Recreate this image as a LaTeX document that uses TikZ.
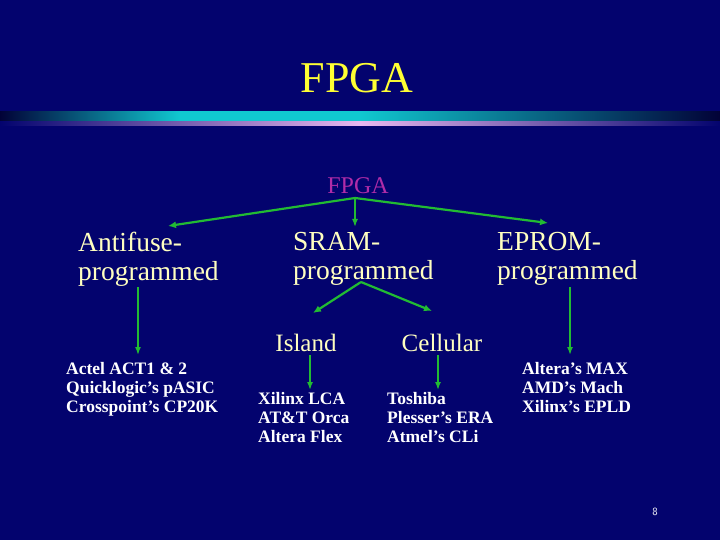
\documentclass[tikz,border=0pt]{standalone}
\usepackage{fontspec}
\setmainfont{Liberation Serif}
\usetikzlibrary{arrows.meta}
\definecolor{bg}{HTML}{03036E}
\definecolor{ttl}{HTML}{FFFF33}
\definecolor{cream}{HTML}{FFFFC0}
\definecolor{mag}{HTML}{B02CA8}
\definecolor{grn}{HTML}{22BB33}
\definecolor{cyanbar}{HTML}{10C8D0}
\definecolor{lav}{HTML}{E8B8F0}
\begin{document}
\begin{tikzpicture}[x=1pt,y=-1pt,
  big/.style={text=cream,font=\fontsize{27.5}{29}\selectfont,align=left,inner sep=0},
  mid/.style={text=cream,font=\fontsize{25}{27}\selectfont,inner sep=0},
  small/.style={text=white,font=\bfseries\fontsize{17.5}{19}\selectfont,align=left,anchor=north west,inner sep=0},
  arr/.style={draw=grn,line width=2.2pt,-{Latex[length=8pt,width=7pt]}},
  varr/.style={draw=grn,line width=1.5pt,-{Latex[length=8pt,width=6pt]}}]
\fill[bg] (0,0) rectangle (720,540);
\useasboundingbox (0,0) rectangle (720,540);
\shade[left color=bg!50!black,right color=cyanbar,middle color=cyanbar] (0,112) rectangle (360,121);
\shade[left color=cyanbar,right color=bg!50!black] (360,112) rectangle (720,121);
\shade[left color=bg,right color=lav] (0,122) rectangle (360,126);
\shade[left color=lav,right color=bg] (360,122) rectangle (720,126);
\node[text=ttl,font=\fontsize{44}{46}\selectfont] (title) at (357,78) {FPGA};
\node[text=mag,font=\fontsize{24}{26}\selectfont] (fpga) at (358,186) {FPGA};
\coordinate (br) at (355,198);
\node[big,anchor=north west] (anti) at (78,232) {Antifuse-\\programmed};
\node[big,anchor=north west] (sram) at (293,232) {SRAM-\\programmed};
\node[big,anchor=north west] (eprom) at (497,232) {EPROM-\\programmed};
\coordinate (sb) at (361,282);
\node[mid] (island) at (306,343) {Island};
\node[mid] (cell) at (442,343) {Cellular};
\node[small] (actel) at (66,362) {Actel ACT1 \& 2\\Quicklogic’s pASIC\\Crosspoint’s CP20K};
\node[small] (xil) at (258,392) {Xilinx LCA\\AT\&T Orca\\Altera Flex};
\node[small] (tosh) at (387,392) {Toshiba\\Plesser’s ERA\\Atmel’s CLi};
\node[small] (alt) at (522,362) {Altera’s MAX\\AMD’s Mach\\Xilinx’s EPLD};
\node[text=white,font=\sffamily\fontsize{11}{12}\selectfont] (pg) at (655,512) {8};
\draw[arr] (br) -- (168,226);
\draw[varr] (br) -- (355,227);
\draw[arr] (br) -- (548,223);
\draw[arr] (sb) -- (313,313);
\draw[arr] (sb) -- (432,311);
\draw[varr] (138,287) -- (138,355);
\draw[varr] (570,287) -- (570,355);
\draw[varr] (310,355) -- (310,390);
\draw[varr] (438,355) -- (438,390);
\end{tikzpicture}
\end{document}
